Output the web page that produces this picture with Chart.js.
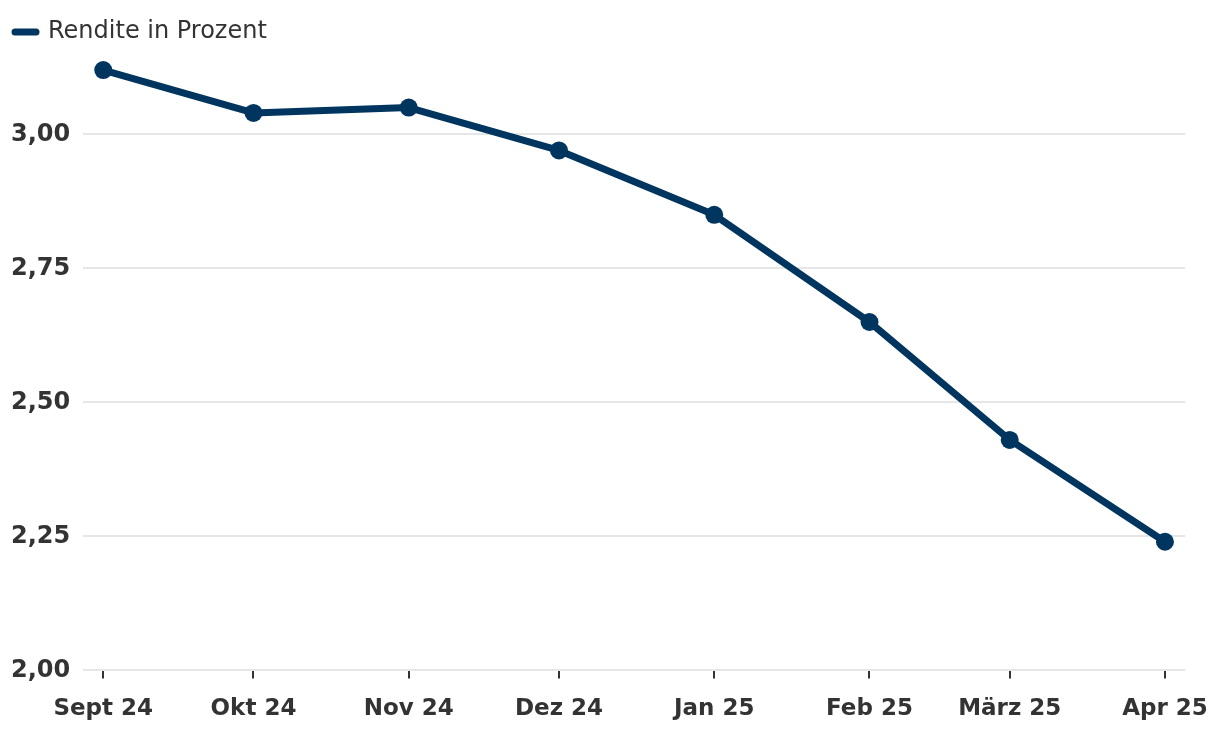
<!DOCTYPE html>
<html lang="de">
<head>
  <meta charset="UTF-8">
  <title>Rendite in Prozent</title>
  <script src="https://cdn.jsdelivr.net/npm/chart.js"></script>
  <style>
    html, body { margin: 0; padding: 0; background: #fff; }
    #wrap { width: 1220px; height: 732px; }
  </style>
</head>
<body>
  <div id="wrap"><canvas id="chart"></canvas></div>
  <script>
    // Monate (Tage seit 1. Sept 2024, damit die Abstände den Monatslängen folgen)
    const monthLabels = ['Sept 24', 'Okt 24', 'Nov 24', 'Dez 24', 'Jan 25', 'Feb 25', 'März 25', 'Apr 25'];
    const dayOffsets = [0, 30, 61, 91, 122, 153, 181, 212];
    const rendite = [3.12, 3.04, 3.05, 2.97, 2.85, 2.65, 2.43, 2.24];
    const yTicks = [2.00, 2.25, 2.50, 2.75, 3.00];

    const navy = '#00355f';
    const textColor = '#333333';
    Chart.defaults.font.family = '"DejaVu Sans", Verdana, sans-serif';
    Chart.defaults.color = textColor;

    const points = dayOffsets.map((d, i) => ({ x: d, y: rendite[i] }));

    new Chart(document.getElementById('chart'), {
      type: 'line',
      data: {
        datasets: [{
          label: 'Rendite in Prozent',
          data: points,
          borderColor: navy,
          backgroundColor: navy,
          borderWidth: 7,
          borderCapStyle: 'round',
          borderJoinStyle: 'round',
          pointRadius: 9,
          pointHoverRadius: 9,
          pointBorderWidth: 0,
          pointStyle: 'circle',
          tension: 0
        }]
      },
      options: {
        responsive: true,
        maintainAspectRatio: false,
        animation: false,
        layout: { padding: { left: -2, right: 0, top: 3, bottom: -8 } },
        plugins: {
          legend: {
            position: 'top',
            align: 'start',
            labels: {
              usePointStyle: true,
              pointStyleWidth: 21,
              font: { size: 24 },
              color: textColor,
              padding: 17,
              // eigene Legende: dicke Linie mit runden Enden
              generateLabels: (chart) => chart.data.datasets.map((ds, i) => ({
                text: ds.label,
                datasetIndex: i,
                pointStyle: 'line',
                strokeStyle: navy,
                fillStyle: navy,
                lineWidth: 7,
                lineCap: 'round',
                fontColor: textColor,
                hidden: false
              }))
            }
          },
          tooltip: { enabled: false }
        },
        scales: {
          x: {
            type: 'linear',
            min: -4,
            max: 216,
            afterBuildTicks: (scale) => {
              scale.ticks = dayOffsets.map(v => ({ value: v }));
            },
            // Platz rechts für "Apr 25" knapper halten
            afterFit: (scale) => {
              scale.paddingRight = 35;
            },
            ticks: {
              autoSkip: false,
              maxRotation: 0,
              font: { size: 23, weight: 'bold' },
              color: textColor,
              padding: 17,
              callback: (value, index) => monthLabels[index]
            },
            grid: {
              drawOnChartArea: false,
              drawTicks: true,
              tickLength: 8,
              tickColor: textColor,
              lineWidth: 2
            },
            border: { display: false }
          },
          y: {
            min: 2.0,
            max: 3.15,
            afterBuildTicks: (scale) => {
              scale.ticks = yTicks.map(v => ({ value: v }));
            },
            ticks: {
              font: { size: 24, weight: 'bold' },
              color: textColor,
              padding: 13,
              callback: (value) => value.toFixed(2).replace('.', ',')
            },
            grid: {
              color: '#e6e6e6',
              lineWidth: 2,
              drawTicks: false
            },
            border: { display: false }
          }
        }
      }
    });
  </script>
</body>
</html>
